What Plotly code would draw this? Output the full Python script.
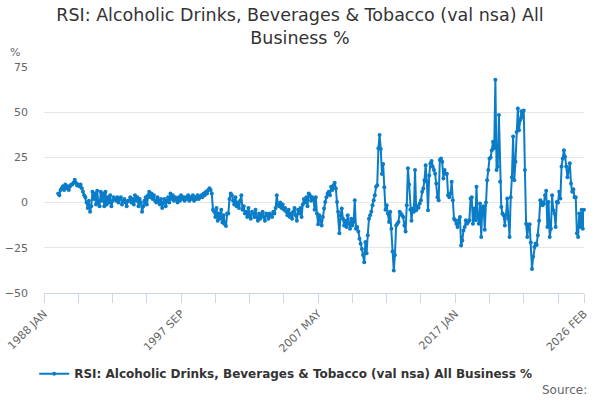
import plotly.graph_objects as go

month_names = ["JAN", "FEB", "MAR", "APR", "MAY", "JUN",
               "JUL", "AUG", "SEP", "OCT", "NOV", "DEC"]
first_year = 1988
last_year = 2026
last_month_count = 2  # data runs to 2026 FEB

categories = [f"{y} {m}" for y in range(first_year, last_year + 1) for m in month_names]
categories = categories[:len(categories) - (12 - last_month_count)]

# Year-on-year % change (1988 has no value)
values = [None] * 12 + [
    # 1989
    5, 4, 7, 8, 9, 7, 10, 8, 9, 7, 9, 10,
    # 1990
    10, 11, 12.7, 11, 9.5, 10, 9, 10, 8, 6, 4, 3,
    # 1991
    0, -3, 1, -5, -2, 6, 2, 5, -1, 6.5, 0, -2,
    # 1992
    6, 1, 5, -2, 6, -1, 3, 0, 4, -2, 1, 3,
    # 1993
    2, 1, 3, 0, 2, 3, -1, 1, 2, 0, -2, 1,
    # 1994
    1, 3, 0, 2, -1, 4, 1, 3, -2, 2, 0, -5,
    # 1995
    -2, 1, 3, -1, 4, 6, 3, 5, 2, 4, 1, 0,
    # 1996
    3, 1, -1, 2, -3, 0, 2, -2, 1, 3, 0, 5,
    # 1997
    2, 4, 1, 3, 2, 0, 3, 1, 4, 2, 3, 1,
    # 1998
    3, 2, 4, 1, 3, 2, 4, 1, 3, 2, 4, 2,
    # 1999
    3, 4, 3, 5, 4, 6, 5, 7, 8, 7, 5, -4,
    # 2000
    -5, -8, -3, -10, -6, -9, -4, -11, -7, -12, -13, -6,
    # 2001
    -6, 2, 5, 4, 1, -1, 3, -2, 0, -3, 1, 4,
    # 2002
    -4, -2, -6, -5, -8, -3, -7, -9, -5, -6, -8, -4,
    # 2003
    -8, -10, -6, -9, -7, -5, -8, -10, -6, -7, -9, -6,
    # 2004
    -7, -8, -5, -6, -3, 4, -1, -2, 0, -3, -1, -4,
    # 2005
    -3, -5, -7, -4, -8, -6, -9, -5, -3, -7, -10, -4,
    # 2006
    -6, -3, -8, -1, 2, 0, 3, -2, 5, 4, 1, 3,
    # 2007
    2, -4, 3, -6, -12, -7, -10, -12.6, -8, -3.3, 0.4, 3,
    # 2008
    5, 6, 4, 8.7, 7, 9.6, 11, 7.8, 0.4, -5, -17, -7,
    # 2009
    -3.3, -9, -12.6, -10, -13.5, -7, -11.7, -14.4, -9, -12.6, -10.7, 1.3,
    # 2010
    -14.4, -13.5, -16, -20, -22.8, -25.6, -29, -33, -21.8, -28, -18, -9,
    # 2011
    -7, -5, -1.5, 1.3, 4, 8.7, 9.6, 30, 37.4, 29.7, 15.8, 21.4,
    # 2012
    8.5, -4, -1.5, -6, -10.7, -5, -14.4, -27, -37.6, -29, -12.6, -11.7,
    # 2013
    -10.7, -5, -6, -7, -8, -12.6, -16, -1.5, 19, 10, -4, -10,
    # 2014
    -3.3, -5, 18, -4.3, -2, -2.8, -0.5, 1.3, 6, 7.8, 12.4, 20.7,
    # 2015
    11.5, -4.3, 15, 21.7, 23, 19.8, 18, 16, 10.5, 3, 1.3, 23.5,
    # 2016
    24.4, 22.6, 13.3, 18, 16, 16, 4, 3, 5, 11.5, 1.3, -9,
    # 2017
    -9.8, -11.7, -13.5, -9.8, -8, -23.7, -21, -15.4, -13.5, -9.8, -11.7, -10.7,
    # 2018
    -9.8, 2.2, 3, -11.7, -3.3, -9.8, 8.7, -8, -11.7, -0.5, -19, -2.4,
    # 2019
    -2, -15, 0, 12.4, 18, 24.4, 25, 29, 33.7, 30, 68, 18,
    # 2020
    20, 48.5, 11.5, -2.4, -6, -7, -12.6, -7, 2.2, -9, -19, 3,
    # 2021
    14, 36.5, 12.4, 22.6, 39, 52, 40, 45.7, 50.5, 47, 51, 18,
    # 2022
    -11.7, -19, -12.6, -12, -22, -36.7, -30, -24.6, -22.6, -23.5, -18, -10,
    # 2023
    1.3, 0.4, -1.5, -0.5, 4, 6.5, -13.5, 0.4, -19, -14.4, 4, -4.3,
    # 2024
    -6, -13.5, 0.4, 0, 6, 2.2, 20, 24.4, 29, 25.4, 20, 14,
    # 2025
    18, 21.7, 10.5, 6, 7.4, 3, 3, -17, -19, -6, -13.5, -4,
    # 2026
    -14.4, -4,
]

series_name = "RSI: Alcoholic Drinks, Beverages & Tobacco (val nsa) All Business %"
tick_step = 29
labelled_ticks = ["1988 JAN", "1997 SEP", "2007 MAY", "2017 JAN", "2026 FEB"]
y_ticks = [-50, -25, 0, 25, 50, 75]

tick_idx = list(range(0, len(categories), tick_step)) + [len(categories) - 1]
tick_vals = [categories[i] for i in tick_idx]
tick_text = [c if c in labelled_ticks else "" for c in tick_vals]

LINE = "#0b7dc8"
FONT = "DejaVu Sans"

fig = go.Figure()
fig.add_trace(go.Scatter(
    x=categories, y=values, mode="lines+markers", name=series_name,
    line=dict(color=LINE, width=2),
    marker=dict(color=LINE, size=4),
    cliponaxis=False, connectgaps=False,
))

fig.update_layout(
    width=600, height=400,
    margin=dict(l=44, r=16, t=67, b=107, autoexpand=False),
    paper_bgcolor="white", plot_bgcolor="white",
    font=dict(family=FONT, color="#666666", size=11),
    title=dict(
        text="RSI: Alcoholic Drinks, Beverages & Tobacco (val nsa) All<br>Business %",
        x=0.5, xanchor="center", y=0.948, yanchor="top", yref="container",
        font=dict(family=FONT, size=17.5, color="#333333"),
    ),
    showlegend=True,
    legend=dict(
        orientation="h", x=0.057, xanchor="left", xref="container",
        y=0.0655, yanchor="middle", yref="container",
        font=dict(family=FONT, size=12, color="#333333", weight="bold"),
        itemwidth=30,
    ),
    xaxis=dict(
        type="category", range=[0, len(categories) - 1],
        tickmode="array", tickvals=tick_vals, ticktext=tick_text,
        tickangle=-45, ticks="outside", ticklen=9, tickcolor="#ccd6eb",
        showline=True, linecolor="#ccd6eb", linewidth=1,
        showgrid=False, zeroline=False, automargin=False,
        tickfont=dict(family=FONT, size=11, color="#666666"),
    ),
    yaxis=dict(
        range=[-50, 75], tickvals=y_ticks,
        showgrid=True, gridcolor="#e6e6e6", gridwidth=1,
        zeroline=False, showline=False, ticks="", automargin=False,
        ticklabelstandoff=15,
        tickfont=dict(family=FONT, size=11, color="#666666"),
    ),
    annotations=[
        dict(text="%", xref="paper", yref="paper", x=-0.053, y=1.066,
             showarrow=False, xanchor="center", yanchor="middle",
             font=dict(family=FONT, size=11, color="#666666")),
        dict(text="Source:", xref="paper", yref="paper", x=1.009, y=-0.429,
             showarrow=False, xanchor="right", yanchor="middle",
             font=dict(family=FONT, size=12, color="#666666")),
    ],
)

fig.write_html("out.html", config={"displayModeBar": False},
               post_script="document.body.style.margin='0';")
